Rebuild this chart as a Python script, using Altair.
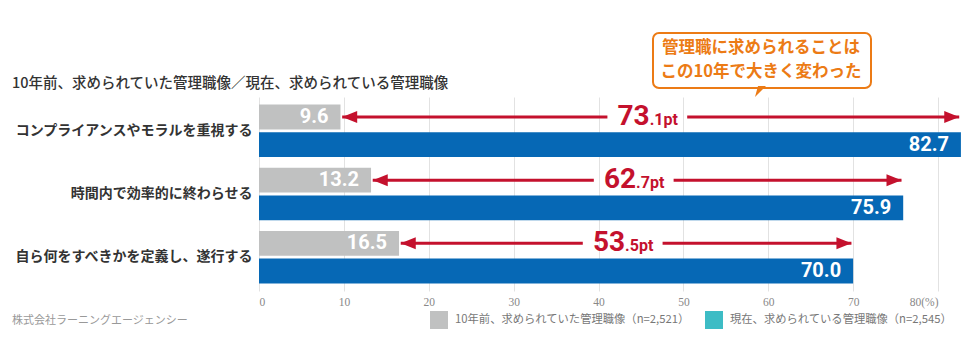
import altair as alt
import pandas as pd

# ---------------- data ----------------
categories = [
    "コンプライアンスやモラルを重視する",
    "時間内で効率的に終わらせる",
    "自ら何をすべきかを定義し、遂行する",
]
series = [
    "10年前、求められていた管理職像（n=2,521）",
    "現在、求められている管理職像（n=2,545）",
]
past_values = [9.6, 13.2, 16.5]
now_values = [82.7, 75.9, 70.0]
diff_int = ["73", "62", "53"]
diff_dec = [".1pt", ".7pt", ".5pt"]
x_ticks = [0, 10, 20, 30, 40, 50, 60, 70, 80]

title_text = "10年前、求められていた管理職像／現在、求められている管理職像"
source_text = "株式会社ラーニングエージェンシー"
callout_lines = ["管理職に求められることは", "この10年で大きく変わった"]

# ---------------- styles ----------------
JP = "Noto Sans CJK JP"
NUM = "Roboto"
GRAY = "#c0c1c1"
BLUE = "#0668b5"
TEAL = "#3dbcc5"
RED = "#c4112d"
ORANGE = "#ec7b15"

bars_df = pd.DataFrame(
    [{"category": c, "series": series[0], "value": p} for c, p in zip(categories, past_values)]
    + [{"category": c, "series": series[1], "value": n} for c, n in zip(categories, now_values)]
)

arrow_df = pd.DataFrame({
    "category": categories,
    "series": series[0],
    "past": past_values,
    "now": now_values,
    "dint": diff_int,
    "ddec": diff_dec,
})
arrow_df["start"] = arrow_df["past"] + 0.2
arrow_df["end"] = arrow_df["now"] - 0.2
arrow_df["mid"] = (arrow_df["past"] + arrow_df["now"]) / 2
arrow_df["left_end"] = arrow_df["mid"] - 5.1
arrow_df["right_start"] = arrow_df["mid"] + 4.3

legend_df = pd.DataFrame({"series": series, "nothing": [None, None]})

x_scale = alt.Scale(domain=[0, 80], nice=False, zero=True)
x_axis = alt.Axis(
    values=x_ticks, grid=True, gridColor="#e2e2e2", gridWidth=1,
    domain=False, ticks=False, title=None,
    labelFont="Liberation Sans Narrow", labelFontSize=11.5, labelColor="#888",
    labelPadding=5,
    labelExpr="datum.value == 80 ? '80(%)' : datum.label",
)
y_scale = alt.Scale(domain=categories, paddingInner=0.168, paddingOuter=0.12)
y_axis = alt.Axis(
    domain=False, ticks=False, title=None, labelFont=JP, labelFontSize=14,
    labelFontWeight="bold", labelColor="#333", labelPadding=7, labelLimit=400,
)
yoff = alt.YOffset("series:N", scale=alt.Scale(domain=series, paddingInner=0.1))

def X(field):
    return alt.X(field, scale=x_scale, axis=x_axis)

Y = alt.Y("category:N", scale=y_scale, axis=y_axis, sort=categories)

bars = alt.Chart(bars_df).mark_bar().encode(
    x=X("value:Q"),
    y=Y,
    yOffset=yoff,
    color=alt.Color("series:N", scale=alt.Scale(domain=series, range=[GRAY, BLUE]), legend=None),
)

bar_labels = alt.Chart(bars_df).mark_text(
    align="right", baseline="middle", dx=-12, font=NUM, fontSize=20,
    fontWeight="bold", color="white",
).encode(x=X("value:Q"), y=Y, yOffset=yoff, text=alt.Text("value:Q", format=".1f"))

line_left = alt.Chart(arrow_df).mark_rule(color=RED, strokeWidth=3).encode(
    x=X("start:Q"), x2="left_end:Q", y=Y, yOffset=yoff)
line_right = alt.Chart(arrow_df).mark_rule(color=RED, strokeWidth=3).encode(
    x=X("right_start:Q"), x2="end:Q", y=Y, yOffset=yoff)

head_left = alt.Chart(arrow_df).mark_point(
    shape="M0,0L2,-0.8L2,0.8Z", filled=True, size=225, color=RED, opacity=1, strokeWidth=0,
).encode(x=X("start:Q"), y=Y, yOffset=yoff)
head_right = alt.Chart(arrow_df).mark_point(
    shape="M0,0L-2,-0.8L-2,0.8Z", filled=True, size=225, color=RED, opacity=1, strokeWidth=0,
).encode(x=X("end:Q"), y=Y, yOffset=yoff)

big_num = alt.Chart(arrow_df).mark_text(
    align="right", baseline="alphabetic", dy=8, dx=-1, font=NUM, fontSize=28,
    fontWeight="bold", color=RED,
).encode(x=X("mid:Q"), y=Y, yOffset=yoff, text="dint:N")
small_num = alt.Chart(arrow_df).mark_text(
    align="left", baseline="alphabetic", dy=8, dx=-1, font=NUM, fontSize=16,
    fontWeight="bold", color=RED,
).encode(x=X("mid:Q"), y=Y, yOffset=yoff, text="ddec:N")

legend_layer = alt.Chart(legend_df).mark_square(opacity=1, filled=True).encode(
    x=X("nothing:Q"),
    color=alt.Color(
        "series:N",
        scale=alt.Scale(domain=series, range=[GRAY, TEAL]),
        legend=alt.Legend(
            orient="none", legendX=171, legendY=214, direction="horizontal",
            title=None, symbolType="square", symbolSize=324, symbolStrokeWidth=0,
            symbolOpacity=1,
            labelFont=JP, labelFontSize=11.3, labelColor="#777", labelLimit=400,
            columnPadding=15, labelOffset=7,
        ),
    ),
)

one = pd.DataFrame({"k": [0]})
title_mark = alt.Chart(one).mark_text(
    text=title_text, align="left", baseline="middle", font=JP, fontSize=14.5,
    fontWeight=500, color="#333",
).encode(x=alt.value(-247), y=alt.value(-13))
source_mark = alt.Chart(one).mark_text(
    text=source_text, align="left", baseline="middle", font=JP, fontSize=11,
    color="#999",
).encode(x=alt.value(-247), y=alt.value(224))

callout_box = alt.Chart(one).mark_rect(
    fill="white", stroke=ORANGE, strokeWidth=2, cornerRadius=6,
).encode(x=alt.value(394), x2=alt.value(612), y=alt.value(-64), y2=alt.value(-9))
callout_tail = alt.Chart(one).mark_point(
    shape="M-0.4,-1.2L1.2,-1.2L-1,1Z", filled=True, size=100, color=ORANGE, opacity=1,
    strokeWidth=0,
).encode(x=alt.value(501), y=alt.value(-5))
callout_t1 = alt.Chart(one).mark_text(
    text=callout_lines[0], align="center", baseline="middle", font=JP, fontSize=16.5,
    fontWeight="bold", color=ORANGE,
).encode(x=alt.value(502), y=alt.value(-49))
callout_t2 = alt.Chart(one).mark_text(
    text=callout_lines[1], align="center", baseline="middle", font=JP, fontSize=16.5,
    fontWeight="bold", color=ORANGE,
).encode(x=alt.value(502), y=alt.value(-25))

chart = alt.layer(
    bars, bar_labels, line_left, line_right, head_left, head_right, big_num, small_num,
    legend_layer, title_mark, source_mark, callout_box, callout_tail, callout_t1, callout_t2,
).resolve_scale(color="independent").properties(
    width=679, height=194,
    autosize=alt.AutoSizeParams(type="none"),
    padding={"left": 259, "top": 97, "right": 42, "bottom": 56},
    background="white",
).configure_view(stroke=None)

chart.save("out.html", embed_options={"renderer": "svg", "actions": False})
